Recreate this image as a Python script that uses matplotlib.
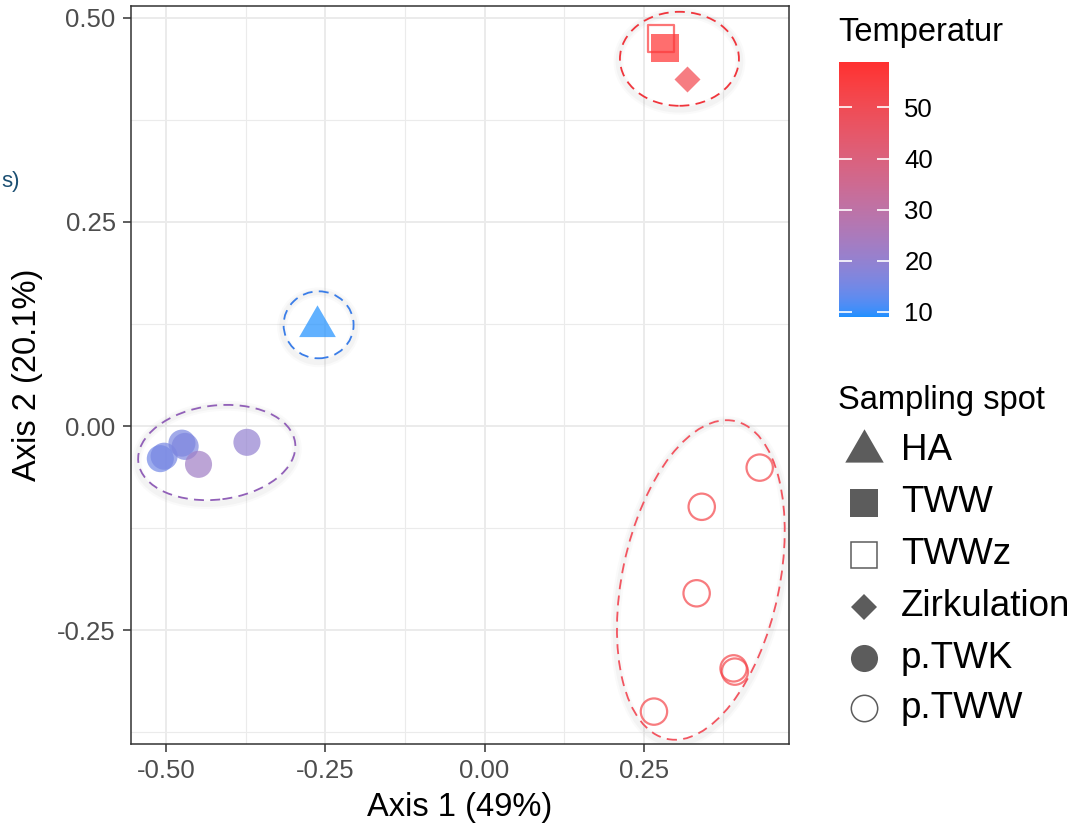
import numpy as np
import matplotlib
matplotlib.use('Agg')
import matplotlib.pyplot as plt
from matplotlib.colors import ListedColormap, Normalize, to_rgb
from matplotlib.cm import ScalarMappable
from matplotlib.patches import Ellipse
from matplotlib.transforms import ScaledTranslation
from matplotlib.lines import Line2D

plt.rcParams['font.family'] = ['Liberation Sans', 'DejaVu Sans']

# PCoA scores, one entry per sample
spot = ['HA', 'TWW', 'TWWz', 'Zirkulation',
        'p.TWK', 'p.TWK', 'p.TWK', 'p.TWK', 'p.TWK', 'p.TWK',
        'p.TWW', 'p.TWW', 'p.TWW', 'p.TWW', 'p.TWW', 'p.TWW']
axis1 = [-0.263, 0.283, 0.277, 0.318,
         -0.509, -0.503, -0.475, -0.470, -0.449, -0.373,
         0.432, 0.341, 0.333, 0.391, 0.393, 0.266]
axis2 = [0.122, 0.463, 0.475, 0.425,
         -0.040, -0.037, -0.021, -0.025, -0.047, -0.020,
         -0.051, -0.099, -0.205, -0.297, -0.301, -0.350]
temp = [9.0, 58.9, 56.0, 52.0,
        15.0, 15.5, 16.0, 16.5, 22.5, 20.0,
        53.0, 53.0, 53.0, 53.0, 53.0, 53.0]

spot_levels = ['HA', 'TWW', 'TWWz', 'Zirkulation', 'p.TWK', 'p.TWW']
temp_ticks = [10, 20, 30, 40, 50]

# group ellipses: centre (data), width/height (inches), angle, colour
ell_cx = [0.306, -0.2605, -0.4204, 0.3396]
ell_cy = [0.450, 0.124, -0.0325, -0.1887]
ell_w = [1.19, 0.70, 1.58, 1.57]
ell_h = [0.94, 0.67, 0.94, 3.25]
ell_ang = [0, 0, 7, -12]
ell_col = ['#f0353c', '#3a7de8', '#9160b8', '#f25560']

# ggplot-like gradient, interpolated in CIELAB
M = np.array([[0.4124564, 0.3575761, 0.1804375],
              [0.2126729, 0.7151522, 0.0721750],
              [0.0193339, 0.1191920, 0.9503041]])
WP = np.array([0.95047, 1.0, 1.08883])


def to_lab(col):
    rgb = np.array(to_rgb(col))
    lin = np.where(rgb <= 0.04045, rgb / 12.92, ((rgb + 0.055) / 1.055) ** 2.4)
    f = (M @ lin) / WP
    f = np.where(f > (6 / 29) ** 3, np.cbrt(f), f / (3 * (6 / 29) ** 2) + 4 / 29)
    return np.array([116 * f[1] - 16, 500 * (f[0] - f[1]), 200 * (f[1] - f[2])])


def from_lab(lab):
    fy = (lab[0] + 16) / 116
    f = np.array([fy + lab[1] / 500, fy, fy - lab[2] / 200])
    xyz = np.where(f > 6 / 29, f ** 3, 3 * (6 / 29) ** 2 * (f - 4 / 29)) * WP
    lin = np.clip(np.linalg.inv(M) @ xyz, 0, 1)
    rgb = np.where(lin <= 0.0031308, 12.92 * lin, 1.055 * lin ** (1 / 2.4) - 0.055)
    return np.clip(rgb, 0, 1)


lo, hi = to_lab('#1E90FF'), to_lab('#FF3030')
cmap = ListedColormap([from_lab(lo + t * (hi - lo)) for t in np.linspace(0, 1, 256)])
norm = Normalize(vmin=min(temp), vmax=max(temp))

markers = {'HA': [(0, 1), (-0.866, -0.5), (0.866, -0.5)], 'TWW': 's', 'TWWz': 's',
           'Zirkulation': 'D', 'p.TWK': 'o', 'p.TWW': 'o'}
sizes = {'HA': 930, 'TWW': 380, 'TWWz': 360, 'Zirkulation': 175, 'p.TWK': 380, 'p.TWW': 360}
hollow = {'TWWz', 'p.TWW'}

fig = plt.figure(figsize=(10.79, 8.23), dpi=100)
W, H = 1079, 823
ax = fig.add_axes([131 / W, (H - 744) / H, (789 - 131) / W, (744 - 6) / H])

ax.set_xlim(-0.555, 0.478)
ax.set_ylim(-0.3897, 0.5147)
ax.set_xticks([-0.5, -0.25, 0.0, 0.25])
ax.set_yticks([-0.25, 0.0, 0.25, 0.5])
ax.set_xticks([-0.375, -0.125, 0.125, 0.375], minor=True)
ax.set_yticks([-0.375, -0.125, 0.125, 0.375], minor=True)
ax.set_xticklabels(['-0.50', '-0.25', '0.00', '0.25'])
ax.set_yticklabels(['-0.25', '0.00', '0.25', '0.50'])
ax.grid(which='major', color='#ebebeb', lw=1.4, zorder=0)
ax.grid(which='minor', color='#ebebeb', lw=0.8, zorder=0)
ax.set_axisbelow(True)
ax.tick_params(which='major', length=5.5, width=1.1, color='#333333',
               labelsize=18.5, labelcolor='#4d4d4d', pad=5.5)
ax.tick_params(which='minor', length=0)
for s in ax.spines.values():
    s.set_color('#333333')
    s.set_linewidth(1.1)
ax.set_xlabel('Axis 1 (49%)', fontsize=23.5, labelpad=6)
ax.set_ylabel('Axis 2 (20.1%)', fontsize=23.5, labelpad=10)

# dashed group ellipses with a faint shadow
for cx, cy, w, h, a, c in zip(ell_cx, ell_cy, ell_w, ell_h, ell_ang, ell_col):
    tr = fig.dpi_scale_trans + ScaledTranslation(cx, cy, ax.transData)
    for lw_s, al in ((7, 0.04), (4, 0.06)):
        ax.add_patch(Ellipse((0.0, -0.025), w + 0.03, h + 0.03, angle=a, fill=False,
                             ec='#8a8a8a', lw=lw_s, alpha=al, transform=tr, zorder=2))
    e = Ellipse((0, 0), w, h, angle=a, fill=False, ec=c, lw=1.3,
                ls=(0, (5.5, 3.5)), transform=tr, zorder=3)
    ax.add_patch(e)

x = np.array(axis1)
y = np.array(axis2)
t = np.array(temp)
sp = np.array(spot)
for lev in spot_levels:
    m = sp == lev
    cols = cmap(norm(t[m]))
    if lev in hollow:
        ax.scatter(x[m], y[m], s=sizes[lev], marker=markers[lev], facecolors='none',
                   edgecolors=cols, linewidths=1.6, alpha=0.7, zorder=4)
    else:
        ax.scatter(x[m], y[m], s=sizes[lev], marker=markers[lev], c=cols,
                   linewidths=0, alpha=0.7, zorder=4)

# colour bar for temperature
cax = fig.add_axes([839 / W, (H - 317) / H, 50 / W, 255 / H])
cb = fig.colorbar(ScalarMappable(norm=norm, cmap=cmap), cax=cax, ticks=temp_ticks)
cb.outline.set_visible(False)
cax.tick_params(direction='in', length=9, width=1.2, color='white',
                left=True, right=True, labelsize=18.5, pad=11)
fig.text(838 / W, 1 - 33 / H, 'Temperatur', fontsize=23.5, va='center', ha='left')

# shape legend
fig.text(838 / W, 1 - 400 / H, 'Sampling spot', fontsize=23.5, va='center', ha='left')
key_y = [451, 503, 555, 607, 658, 708]
key_ms = {'HA': 32, 'TWW': 19.5, 'TWWz': 19, 'Zirkulation': 13.4, 'p.TWK': 19.5, 'p.TWW': 19}
for lev, ky in zip(spot_levels, key_y):
    fc = 'white' if lev in hollow else '#5c5c5c'
    fig.add_artist(Line2D([864 / W], [1 - ky / H], transform=fig.transFigure,
                          marker=markers[lev], ms=key_ms[lev], mfc=fc, mec='#5c5c5c',
                          mew=1.1 if lev in hollow else 0, ls='none'))
    fig.text(901 / W, 1 - ky / H, lev, fontsize=26.5, va='center', ha='left')

# fragment of a neighbouring label at the left edge
fig.text(1 / W, 1 - 181 / H, 's)', fontsize=16, color='#1b4f72', va='center', ha='left')

fig.savefig('out.png', dpi=100)
